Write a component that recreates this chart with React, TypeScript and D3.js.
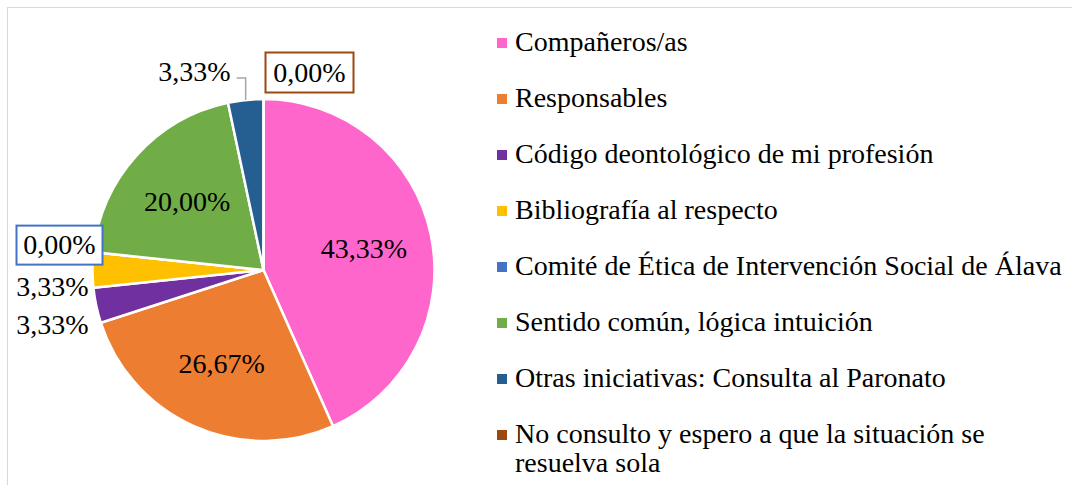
import React from "react";
import { pie, arc, PieArcDatum } from "d3";

const categories = [
  "Compañeros/as",
  "Responsables",
  "Código deontológico de mi profesión",
  "Bibliografía al respecto",
  "Comité de Ética de Intervención Social de Álava",
  "Sentido común, lógica intuición",
  "Otras iniciativas: Consulta al Paronato",
  "No consulto y espero a que la situación se resuelva sola",
];
const values = [43.33, 26.67, 3.33, 3.33, 0, 20.0, 3.33, 0];
const labels = ["43,33%", "26,67%", "3,33%", "3,33%", "0,00%", "20,00%", "3,33%", "0,00%"];
const colors = ["#ff66cc", "#ed7d31", "#7030a0", "#ffc000", "#4472c4", "#70ad47", "#255e91", "#9e480e"];
// legend lines for the one entry that wraps
const legendLines = categories.map((c, i) =>
  i === 7 ? ["No consulto y espero a que la situación se", "resuelva sola"] : [c]
);

const W = 1072;
const H = 485;
const cx = 263.5;
const cy = 270;
const r = 171;
const FONT = "Liberation Serif, Times New Roman, Times, DejaVu Serif, serif";
const FS = 28;

type D = { name: string; value: number; label: string; color: string };
const data: D[] = categories.map((name, i) => ({ name, value: values[i], label: labels[i], color: colors[i] }));

const App = () => {
  const arcs = pie<D>().sort(null).value((d) => d.value)(data);
  const arcGen = arc<PieArcDatum<D>>().innerRadius(0).outerRadius(r);
  const labelArc = arc<PieArcDatum<D>>().innerRadius(r * 0.6).outerRadius(r * 0.6);

  const mid = (a: PieArcDatum<D>) => (a.startAngle + a.endAngle) / 2;
  const edge = (a: PieArcDatum<D>, rr: number) => [Math.sin(mid(a)) * rr, -Math.cos(mid(a)) * rr];

  // inside labels for large slices
  const inside = arcs.filter((a) => a.data.value >= 10);
  // outside labels, left side (stacked downwards) and top
  const outside = arcs.filter((a) => a.data.value < 10);
  const left = outside
    .filter((a) => mid(a) > Math.PI * 1.2 && mid(a) < Math.PI * 1.8)
    .map((a) => ({ a, y: edge(a, r)[1] }))
    .sort((p, q) => p.y - q.y);
  for (let i = 1; i < left.length; i++) {
    left[i].y = Math.max(left[i].y, left[i - 1].y + 38);
  }
  const top = outside.filter((a) => mid(a) >= Math.PI * 1.8);

  const boxW = 86;
  const boxH = 39;
  const ts = { fontFamily: FONT, fontSize: FS };

  return (
    <svg width={W} height={H} style={{ position: "absolute", left: 0, top: 0, background: "#fff", fontFamily: FONT }}>
      <rect x={7.5} y={7.5} width={W + 20} height={H + 20} fill="#fff" stroke="#d9d9d9" strokeWidth={1} />
      <g transform={`translate(${cx},${cy})`}>
        {arcs.map((a, i) => (
          <path key={i} d={arcGen(a) || ""} fill={a.data.color} stroke="#fff" strokeWidth={2.5} strokeLinejoin="round" />
        ))}
        {inside.map((a, i) => {
          const [x, y] = labelArc.centroid(a);
          return (
            <text key={i} x={x} y={y + FS * 0.33} textAnchor="middle" style={ts} fill="#000">
              {a.data.label}
            </text>
          );
        })}
        {left.map(({ a, y }, i) => {
          const boxed = a.data.value === 0;
          const right = -r - 4;
          if (boxed) {
            const bx = -r + 10 - boxW;
            return (
              <g key={i}>
                <rect x={bx} y={y - 7 - boxH / 2} width={boxW} height={boxH} fill="#fff" stroke={a.data.color} strokeWidth={2} />
                <text x={bx + boxW / 2} y={y - 7 + FS * 0.33} textAnchor="middle" style={ts} fill="#000">
                  {a.data.label}
                </text>
              </g>
            );
          }
          return (
            <text key={i} x={right} y={y - 3 + FS * 0.33} textAnchor="end" style={ts} fill="#000">
              {a.data.label}
            </text>
          );
        })}
        {top.map((a, i) => {
          const [ex, ey] = edge(a, r);
          const ly = -r + 2 - 27;
          if (a.data.value === 0) {
            const bx = ex + 2;
            return (
              <g key={i}>
                <rect x={bx} y={ly - 2 - boxH / 2} width={boxW + 2} height={boxH + 1} fill="#fff" stroke={a.data.color} strokeWidth={2} />
                <text x={bx + (boxW + 2) / 2} y={ly - 1 + FS * 0.33} textAnchor="middle" style={ts} fill="#000">
                  {a.data.label}
                </text>
              </g>
            );
          }
          return (
            <g key={i}>
              <polyline
                points={`${ex},${ey} ${ex},${ly + 4} ${ex - 9},${ly + 4}`}
                fill="none"
                stroke="#a6a6a6"
                strokeWidth={1.5}
              />
              <text x={ex - 15} y={ly - 2 + FS * 0.33} textAnchor="end" style={ts} fill="#000">
                {a.data.label}
              </text>
            </g>
          );
        })}
      </g>
      <g transform="translate(497,0)">
        {legendLines.map((lines, i) => {
          const base = 51 + i * 56;
          return (
            <g key={i}>
              <rect x={0} y={base - 13} width={10} height={10} fill={colors[i]} />
              <text x={18} y={base} style={ts} fill="#000">
                {lines.map((l, j) => (
                  <tspan key={j} x={18} y={base + j * 29}>
                    {l}
                  </tspan>
                ))}
              </text>
            </g>
          );
        })}
      </g>
    </svg>
  );
};

export default App;
